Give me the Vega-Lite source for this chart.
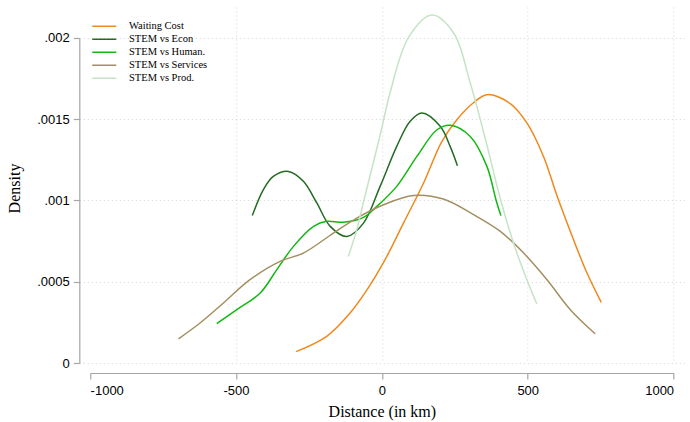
{
  "$schema": "https://vega.github.io/schema/vega-lite/v6.json",
  "width": 606,
  "height": 356,
  "autosize": {"type": "none"},
  "padding": {"left": 79.3, "top": 7, "right": 4.7, "bottom": 59},
  "config": {"view": {"stroke": null}, "background": "white"},
  "data": {"values": [
    {"series": "Waiting Cost", "d": -294, "density": 0.000070},
    {"series": "Waiting Cost", "d": -189, "density": 0.000164},
    {"series": "Waiting Cost", "d": -109, "density": 0.000307},
    {"series": "Waiting Cost", "d": -51, "density": 0.000450},
    {"series": "Waiting Cost", "d": 5, "density": 0.000615},
    {"series": "Waiting Cost", "d": 74, "density": 0.000860},
    {"series": "Waiting Cost", "d": 143, "density": 0.001107},
    {"series": "Waiting Cost", "d": 205, "density": 0.001360},
    {"series": "Waiting Cost", "d": 257, "density": 0.001496},
    {"series": "Waiting Cost", "d": 314, "density": 0.001600},
    {"series": "Waiting Cost", "d": 360, "density": 0.001650},
    {"series": "Waiting Cost", "d": 440, "density": 0.001595},
    {"series": "Waiting Cost", "d": 497, "density": 0.001476},
    {"series": "Waiting Cost", "d": 554, "density": 0.001270},
    {"series": "Waiting Cost", "d": 600, "density": 0.001030},
    {"series": "Waiting Cost", "d": 657, "density": 0.000758},
    {"series": "Waiting Cost", "d": 703, "density": 0.000553},
    {"series": "Waiting Cost", "d": 752, "density": 0.000373},
    {"series": "STEM vs Econ", "d": -444, "density": 0.000907},
    {"series": "STEM vs Econ", "d": -406, "density": 0.001066},
    {"series": "STEM vs Econ", "d": -372, "density": 0.001147},
    {"series": "STEM vs Econ", "d": -320, "density": 0.001178},
    {"series": "STEM vs Econ", "d": -269, "density": 0.001117},
    {"series": "STEM vs Econ", "d": -223, "density": 0.000984},
    {"series": "STEM vs Econ", "d": -177, "density": 0.000840},
    {"series": "STEM vs Econ", "d": -120, "density": 0.000778},
    {"series": "STEM vs Econ", "d": -63, "density": 0.000860},
    {"series": "STEM vs Econ", "d": -6, "density": 0.001086},
    {"series": "STEM vs Econ", "d": 51, "density": 0.001332},
    {"series": "STEM vs Econ", "d": 97, "density": 0.001486},
    {"series": "STEM vs Econ", "d": 137, "density": 0.001537},
    {"series": "STEM vs Econ", "d": 200, "density": 0.001455},
    {"series": "STEM vs Econ", "d": 234, "density": 0.001332},
    {"series": "STEM vs Econ", "d": 259, "density": 0.001213},
    {"series": "STEM vs Human.", "d": -566, "density": 0.000242},
    {"series": "STEM vs Human.", "d": -497, "density": 0.000328},
    {"series": "STEM vs Human.", "d": -417, "density": 0.000430},
    {"series": "STEM vs Human.", "d": -360, "density": 0.000574},
    {"series": "STEM vs Human.", "d": -303, "density": 0.000717},
    {"series": "STEM vs Human.", "d": -234, "density": 0.000840},
    {"series": "STEM vs Human.", "d": -189, "density": 0.000871},
    {"series": "STEM vs Human.", "d": -132, "density": 0.000865},
    {"series": "STEM vs Human.", "d": -63, "density": 0.000895},
    {"series": "STEM vs Human.", "d": -17, "density": 0.000963},
    {"series": "STEM vs Human.", "d": 51, "density": 0.001086},
    {"series": "STEM vs Human.", "d": 120, "density": 0.001270},
    {"series": "STEM vs Human.", "d": 189, "density": 0.001434},
    {"series": "STEM vs Human.", "d": 234, "density": 0.001462},
    {"series": "STEM vs Human.", "d": 303, "density": 0.001393},
    {"series": "STEM vs Human.", "d": 360, "density": 0.001209},
    {"series": "STEM vs Human.", "d": 391, "density": 0.001004},
    {"series": "STEM vs Human.", "d": 408, "density": 0.000906},
    {"series": "STEM vs Services", "d": -697, "density": 0.000149},
    {"series": "STEM vs Services", "d": -623, "density": 0.000246},
    {"series": "STEM vs Services", "d": -543, "density": 0.000369},
    {"series": "STEM vs Services", "d": -452, "density": 0.000512},
    {"series": "STEM vs Services", "d": -349, "density": 0.000625},
    {"series": "STEM vs Services", "d": -269, "density": 0.000676},
    {"series": "STEM vs Services", "d": -166, "density": 0.000799},
    {"series": "STEM vs Services", "d": -86, "density": 0.000891},
    {"series": "STEM vs Services", "d": 6, "density": 0.000973},
    {"series": "STEM vs Services", "d": 108, "density": 0.001030},
    {"series": "STEM vs Services", "d": 211, "density": 0.001008},
    {"series": "STEM vs Services", "d": 314, "density": 0.000912},
    {"series": "STEM vs Services", "d": 406, "density": 0.000809},
    {"series": "STEM vs Services", "d": 486, "density": 0.000676},
    {"series": "STEM vs Services", "d": 566, "density": 0.000512},
    {"series": "STEM vs Services", "d": 646, "density": 0.000328},
    {"series": "STEM vs Services", "d": 731, "density": 0.000180},
    {"series": "STEM vs Prod.", "d": -115, "density": 0.000655},
    {"series": "STEM vs Prod.", "d": -86, "density": 0.000820},
    {"series": "STEM vs Prod.", "d": -63, "density": 0.000990},
    {"series": "STEM vs Prod.", "d": -6, "density": 0.001400},
    {"series": "STEM vs Prod.", "d": 28, "density": 0.001660},
    {"series": "STEM vs Prod.", "d": 91, "density": 0.002000},
    {"series": "STEM vs Prod.", "d": 171, "density": 0.002139},
    {"series": "STEM vs Prod.", "d": 246, "density": 0.002029},
    {"series": "STEM vs Prod.", "d": 303, "density": 0.001721},
    {"series": "STEM vs Prod.", "d": 360, "density": 0.001340},
    {"series": "STEM vs Prod.", "d": 406, "density": 0.001010},
    {"series": "STEM vs Prod.", "d": 451, "density": 0.000738},
    {"series": "STEM vs Prod.", "d": 497, "density": 0.000512},
    {"series": "STEM vs Prod.", "d": 531, "density": 0.000363}
  ]},
  "layer": [
    {
      "mark": {"type": "line", "interpolate": "catmull-rom", "strokeWidth": 1.5},
      "encoding": {
        "x": {"field": "d", "type": "quantitative",
              "scale": {"domain": [-1037, 1040], "nice": false, "zero": false},
              "axis": {"orient": "bottom", "values": [-500, 0, 500, 1000], "grid": true, "domain": false, "ticks": false, "labels": false, "title": null,
                       "gridDash": [1, 3], "gridColor": "#d4d4d4", "gridWidth": 1}},
        "y": {"field": "density", "type": "quantitative",
              "scale": {"domain": [0, 0.0021888], "nice": false, "zero": false},
              "axis": {"orient": "left", "values": [0, 0.0005, 0.001, 0.0015, 0.002], "grid": true, "domain": false, "ticks": false, "labels": false, "title": null,
                       "gridDash": [1, 3], "gridColor": "#d4d4d4", "gridWidth": 1}},
        "color": {"field": "series", "type": "nominal",
                  "scale": {"domain": ["Waiting Cost", "STEM vs Econ", "STEM vs Human.", "STEM vs Services", "STEM vs Prod."],
                            "range": ["#EE8A1C", "#236B23", "#12B812", "#A38F62", "#C5E3C5"]},
                  "legend": {"orient": "none", "legendX": 19.7, "legendY": 14, "title": null, "padding": 0,
                             "symbolType": "M-3,0H3", "symbolSize": 64, "symbolStrokeWidth": 1.5,
                             "labelFont": "Liberation Serif", "labelFontSize": 10.5, "labelColor": "#000",
                             "labelOffset": 19.5, "rowPadding": 2}}
      }
    },
    {
      "mark": {"type": "point", "opacity": 0},
      "encoding": {
        "x": {"field": "d", "type": "quantitative",
              "scale": {"domain": [-1000, 1000], "range": [10.8, 594.3], "nice": false, "zero": false},
              "axis": {"orient": "bottom", "offset": 10, "values": [-1000, -500, 0, 500, 1000], "grid": false,
                       "labelExpr": "toString(datum.value)",
                       "domainColor": "#a6a6a6", "tickColor": "#a6a6a6", "tickSize": 6, "domainWidth": 1.2, "tickWidth": 1.2,
                       "labelFont": "Liberation Sans", "labelFontSize": 13, "labelColor": "#000", "labelPadding": 5,
                       "title": "Distance (in km)", "titleFont": "Liberation Serif", "titleFontSize": 16, "titleFontWeight": "normal", "titleColor": "#000", "titlePadding": 6}},
        "y": {"field": "density", "type": "quantitative",
              "scale": {"domain": [0, 0.002], "range": [356, 30.7], "nice": false, "zero": false},
              "axis": {"orient": "left", "values": [0, 0.0005, 0.001, 0.0015, 0.002], "grid": false,
                       "labelExpr": "datum.value == 0 ? '0' : replace(toString(datum.value), '0.', '.')",
                       "domainColor": "#a6a6a6", "tickColor": "#a6a6a6", "tickSize": 6, "domainWidth": 1.2, "tickWidth": 1.2,
                       "labelFont": "Liberation Sans", "labelFontSize": 13, "labelColor": "#000", "labelPadding": 4,
                       "title": "Density", "titleFont": "Liberation Serif", "titleFontSize": 16, "titleFontWeight": "normal", "titleColor": "#000", "titlePadding": 14, "titleY": 181}}
      }
    }
  ],
  "resolve": {"scale": {"x": "independent", "y": "independent"}}
}
